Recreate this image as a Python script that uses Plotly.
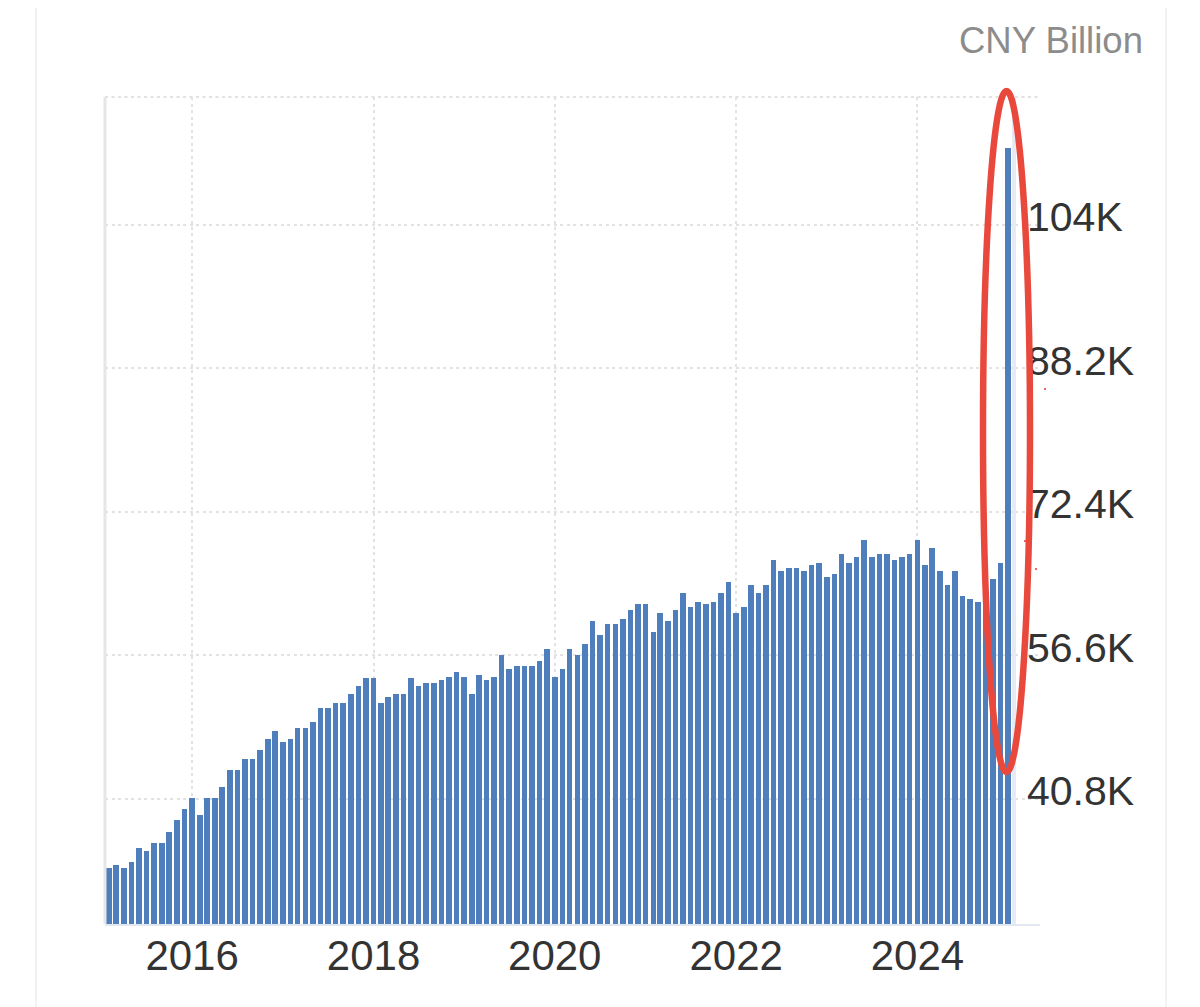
import pandas as pd
import plotly.graph_objects as go

months = pd.date_range("2015-02-01", "2025-01-01", freq="MS")
values_k = [
    33.24, 33.54, 33.24, 33.83, 35.37, 35.08, 35.99, 35.99, 37.20, 38.45,
    39.70, 40.94, 39.07, 40.94, 40.94, 42.16, 43.99, 43.99, 45.24, 45.24,
    46.15, 47.40, 48.32, 47.11, 47.40, 48.65, 48.65, 49.27, 50.77, 50.77,
    51.40, 51.40, 52.31, 53.23, 54.15, 54.15, 51.40, 52.02, 52.31, 52.31,
    54.15,
    53.23, 53.56, 53.56, 53.85, 54.18, 54.81, 54.18, 52.31, 54.48, 53.85,
    54.18, 56.64, 55.10, 55.39, 55.39, 55.39, 56.02, 57.26, 54.18, 55.10,
    57.26, 56.64, 57.89, 60.34, 58.80, 60.05, 60.05, 60.64, 61.59, 62.21,
    62.21, 59.13, 61.26, 60.34, 61.59, 63.42, 61.88, 62.51, 62.21, 62.51,
    63.42,
    64.67, 61.26, 61.88, 64.34, 63.42, 64.34, 67.13, 65.88, 66.21, 66.21,
    65.88, 66.50, 66.80, 65.26, 65.59, 67.75, 66.80, 67.42, 69.29, 67.42,
    67.75, 67.75, 67.13, 67.42, 67.75, 69.29, 66.50, 68.37, 65.88, 64.34,
    65.88, 63.09, 62.80, 62.51, 63.06, 64.96, 66.80, 112.45,
]
y_ticks = [40.8, 56.6, 72.4, 88.2, 104]
y_labels = ["40.8K", "56.6K", "72.4K", "88.2K", "104K"]
x_ticks = ["2016-01-01", "2018-01-01", "2020-01-01", "2022-01-01", "2024-01-01"]
x_labels = ["2016", "2018", "2020", "2022", "2024"]

# Page-space plot box; the browser adds an 8 px body margin around the figure.
L, R, T, B = 105, 1040, 97, 924
PAGE_W, PAGE_H, BODY = 1200, 1007, 8
W, H = PAGE_W - BODY, PAGE_H - BODY
px = lambda x: (x - L) / (R - L)
py = lambda y: (B - y) / (B - T)

GRID = "#e2e2e2"
DOT = "3px,3.5px"
fig = go.Figure(go.Bar(
    x=months, y=values_k, width=1000 * 3600 * 24 * 22.5,
    marker=dict(color="#4e7fbc", line_width=0), hoverinfo="x+y",
))


def paper_shape(kind, x0, x1, y0, y1, **kw):
    return dict(type=kind, xref="paper", yref="paper",
                x0=px(x0), x1=px(x1), y0=py(y0), y1=py(y1), **kw)


shapes = [
    paper_shape("line", 36, 36, 0, 1007, line=dict(color="#f2f2f2", width=2)),
    paper_shape("line", 1166, 1166, 0, 1007, line=dict(color="#f2f2f2", width=2)),
    paper_shape("line", 105, 1040, 97, 97, line=dict(color=GRID, width=2, dash=DOT), layer="below"),
    paper_shape("line", 105, 105, 97, 924, line=dict(color="#e6e6e6", width=3)),
    paper_shape("rect", 1012, 1016, 97, 924, fillcolor="#e6ebf3", line_width=0),
    paper_shape("circle", 983, 1030, 91, 772, line=dict(color="#e8493c", width=6.5)),
]
for dx, dy in [(1045, 389), (1025, 541), (1036, 569)]:
    shapes.append(paper_shape("circle", dx - 1, dx + 1, dy - 1, dy + 1,
                              fillcolor="#e8392c", line_width=0))

fig.update_layout(
    width=W, height=H,
    margin=dict(l=L - BODY, r=PAGE_W - R, t=T - BODY, b=PAGE_H - B),
    paper_bgcolor="white", plot_bgcolor="white",
    font=dict(family="Liberation Sans, Arial, sans-serif", color="#333333", size=40),
    showlegend=False, bargap=0, shapes=shapes,
    xaxis=dict(
        type="date", range=["2015-01-15", "2025-05-09"],
        tickmode="array", tickvals=x_ticks, ticktext=x_labels,
        showgrid=True, gridcolor=GRID, griddash=DOT, gridwidth=2,
        showline=True, linecolor="#e3e8f0", linewidth=2, ticks="",
        tickfont=dict(size=42), zeroline=False, ticklabelstandoff=-6,
    ),
    yaxis=dict(
        side="right", range=[27.05, 118.03],
        tickmode="array", tickvals=y_ticks, ticktext=y_labels,
        showgrid=True, gridcolor=GRID, griddash=DOT, gridwidth=2,
        ticks="", zeroline=False, showline=False,
        ticklabelstandoff=-14, ticklabelshift=-8, tickfont=dict(size=41),
    ),
    annotations=[dict(
        text="CNY Billion", xref="paper", yref="paper",
        x=px(1145), y=py(40), xanchor="right", yanchor="middle",
        showarrow=False, font=dict(size=36.5, color="#8c8c8c"),
    )],
)
fig.write_html("out.html")
